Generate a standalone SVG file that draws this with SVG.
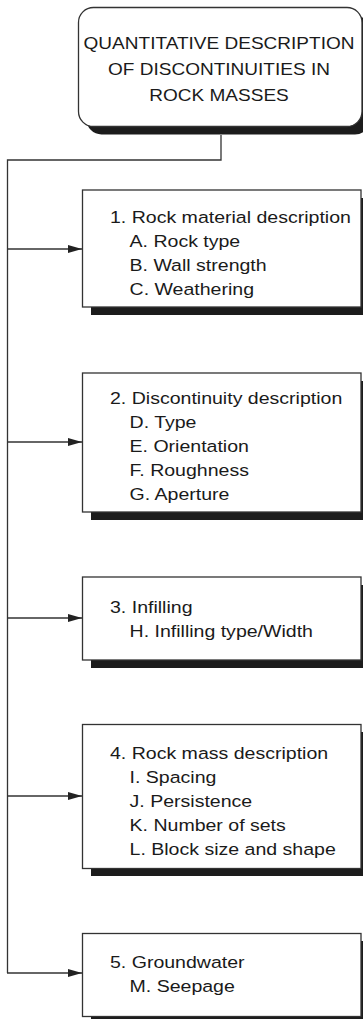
<svg xmlns="http://www.w3.org/2000/svg" width="363" height="1019" viewBox="0 0 363 1019">
  <defs>
    <marker id="arrow" viewBox="0 0 14 8" refX="14" refY="4" markerWidth="14" markerHeight="8" markerUnits="userSpaceOnUse" orient="auto">
      <path d="M0,0 L14,4 L0,8 Z" fill="#222"/>
    </marker>
  </defs>
  <style>
    .box { fill: #fff; stroke: #333; stroke-width: 1.3; }
    .shadow { fill: #1c1c1c; }
    .wire { fill: none; stroke: #333; stroke-width: 1.3; }
    text { font-family: "Liberation Sans", Arial, sans-serif; font-size: 17px; fill: #1a1a1a; }
  </style>

  <!-- connectors -->
  <g id="connectors">
    <path class="wire" d="M221,135 V160 H7.5 V973"/>
    <path class="wire" d="M7.5,249 H82" marker-end="url(#arrow)"/>
    <path class="wire" d="M7.5,442 H82" marker-end="url(#arrow)"/>
    <path class="wire" d="M7.5,618 H82" marker-end="url(#arrow)"/>
    <path class="wire" d="M7.5,796 H82" marker-end="url(#arrow)"/>
    <path class="wire" d="M7,973 H82" marker-end="url(#arrow)"/>
  </g>

  <!-- title node -->
  <g id="node-title">
    <rect class="shadow" x="86.5" y="15.5" width="283.5" height="119" rx="15"/>
    <rect class="box" x="78.5" y="7.5" width="283.5" height="119" rx="15"/>
    <g transform="translate(219,0) scale(1.12,1)">
      <text x="0" y="49" text-anchor="middle">QUANTITATIVE DESCRIPTION</text>
      <text x="0" y="75" text-anchor="middle">OF DISCONTINUITIES IN</text>
      <text x="0" y="101" text-anchor="middle">ROCK MASSES</text>
    </g>
  </g>

  <!-- 1. rock material -->
  <g id="node-rock-material">
    <rect class="shadow" x="91" y="198" width="280" height="117"/>
    <rect class="box" x="82.5" y="190" width="278.5" height="117"/>
    <g transform="translate(110,0) scale(1.15,1)">
      <text x="0" y="223">1. Rock material description</text>
      <text x="17" y="247">A. Rock type</text>
      <text x="17" y="271">B. Wall strength</text>
      <text x="17" y="295">C. Weathering</text>
    </g>
  </g>

  <!-- 2. discontinuity -->
  <g id="node-discontinuity">
    <rect class="shadow" x="91" y="381" width="280" height="139"/>
    <rect class="box" x="82.5" y="373" width="278.5" height="139"/>
    <g transform="translate(110,0) scale(1.15,1)">
      <text x="0" y="404">2. Discontinuity description</text>
      <text x="17" y="428">D. Type</text>
      <text x="17" y="452">E. Orientation</text>
      <text x="17" y="476">F. Roughness</text>
      <text x="17" y="500">G. Aperture</text>
    </g>
  </g>

  <!-- 3. infilling -->
  <g id="node-infilling">
    <rect class="shadow" x="91" y="585" width="280" height="83"/>
    <rect class="box" x="82.5" y="577" width="278.5" height="83"/>
    <g transform="translate(110,0) scale(1.15,1)">
      <text x="0" y="613">3. Infilling</text>
      <text x="17" y="637">H. Infilling type/Width</text>
    </g>
  </g>

  <!-- 4. rock mass -->
  <g id="node-rock-mass">
    <rect class="shadow" x="91" y="732" width="280" height="144"/>
    <rect class="box" x="82.5" y="724.5" width="278.5" height="144"/>
    <g transform="translate(110,0) scale(1.15,1)">
      <text x="0" y="759">4. Rock mass description</text>
      <text x="17" y="783">I. Spacing</text>
      <text x="17" y="807">J. Persistence</text>
      <text x="17" y="831">K. Number of sets</text>
      <text x="17" y="855">L. Block size and shape</text>
    </g>
  </g>

  <!-- 5. groundwater -->
  <g id="node-groundwater">
    <rect class="shadow" x="91" y="941" width="280" height="83"/>
    <rect class="box" x="82.5" y="933.5" width="278.5" height="83"/>
    <g transform="translate(110,0) scale(1.15,1)">
      <text x="0" y="968">5. Groundwater</text>
      <text x="17" y="992">M. Seepage</text>
    </g>
  </g>
</svg>
